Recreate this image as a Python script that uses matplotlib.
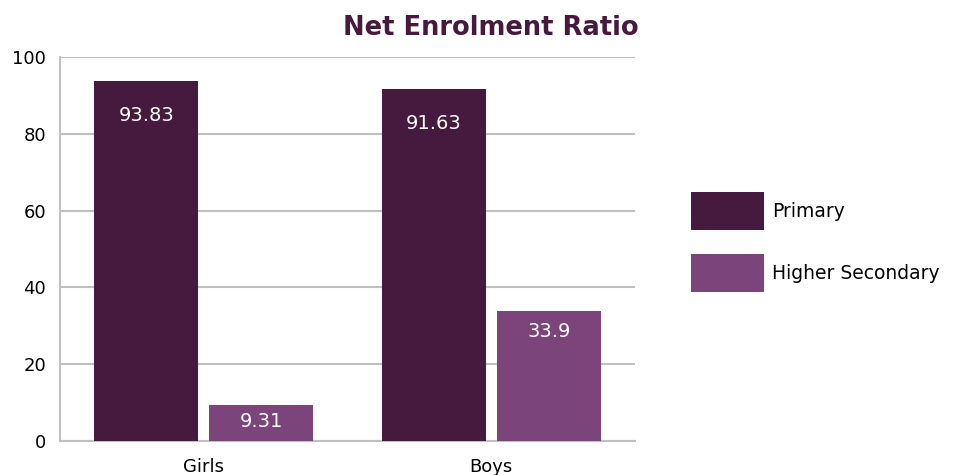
import matplotlib
matplotlib.use('Agg')
import matplotlib.pyplot as plt
import numpy as np

plt.rcParams['font.family'] = ['DejaVu Sans']

groups = ['Girls', 'Boys']
primary = [93.83, 91.63]
higher_secondary = [9.31, 33.9]
yticks = [0, 20, 40, 60, 80, 100]

dark = '#461a3e'
light = '#7b447b'

fig = plt.figure(figsize=(9.7, 4.75), dpi=100)
ax = fig.add_axes([60 / 970, 34 / 475, 575 / 970, 384 / 475])

x = np.arange(len(groups))
w = 0.362
b1 = ax.bar(x - 0.2, primary, w, color=dark, label='Primary', zorder=3)
b2 = ax.bar(x + 0.2, higher_secondary, w, color=light, label='Higher Secondary', zorder=3)

# etiquetas dentro de las barras
for bars, vals in [(b1, primary), (b2, higher_secondary)]:
    for bar, v in zip(bars, vals):
        if v > 50:
            yy = v - 9
        else:
            yy = v - min(5.5, v * 0.45)
        ax.text(bar.get_x() + bar.get_width() / 2, yy, f'{v:g}', ha='center', va='center',
                color='white', fontsize=14, zorder=4)

ax.set_xlim(-0.5, 1.5)
ax.set_ylim(0, 100)
ax.set_yticks(yticks)
ax.set_xticks(x)
ax.set_xticklabels(groups)
ax.tick_params(axis='both', length=0, labelsize=13, colors='black')
ax.tick_params(axis='y', pad=10)
ax.tick_params(axis='x', pad=12)
ax.grid(axis='y', color='#c0c0c0', linewidth=1.5, zorder=0)
for s in ['top', 'right']:
    ax.spines[s].set_visible(False)
ax.spines['left'].set_color('#c0c0c0')
ax.spines['bottom'].set_color('#c0c0c0')
ax.spines['left'].set_linewidth(1.5)
ax.spines['bottom'].set_linewidth(1.5)

fig.text(491 / 970, 1 - 28 / 475, 'Net Enrolment Ratio', ha='center', va='center',
         fontsize=18.5, fontweight='bold', color=dark)

fig.legend(handles=[b1, b2], loc='center left', bbox_to_anchor=(674 / 970, 1 - 242 / 475),
           frameon=False, fontsize=13.5, handlelength=3.9, handleheight=2.7,
           labelspacing=1.3, handletextpad=0.45)

fig.savefig('out.png', dpi=100)
